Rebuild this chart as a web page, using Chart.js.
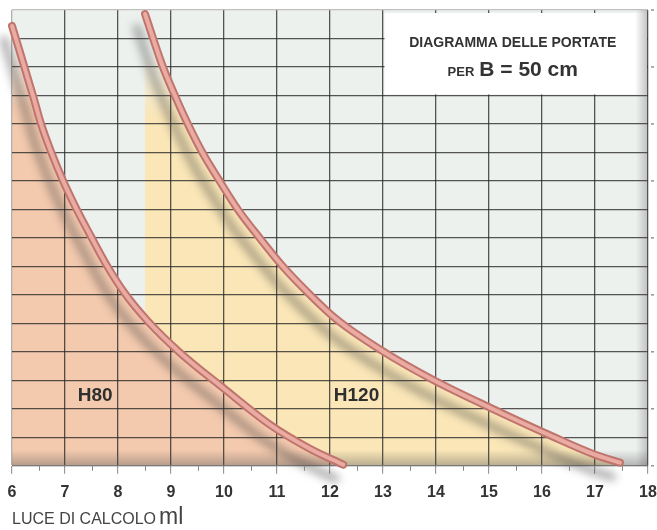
<!DOCTYPE html>
<html><head><meta charset="utf-8">
<script src="https://cdn.jsdelivr.net/npm/chart.js@4.4.1/dist/chart.umd.min.js"></script>
<style>html,body{margin:0;padding:0;background:#fff;}#wrap{width:657px;height:530px;}</style>
</head><body><div id="wrap"><canvas id="c" width="657" height="530"></canvas></div>
<script>
// ---- data ----
const xTicks = [6, 7, 8, 9, 10, 11, 12, 13, 14, 15, 16, 17, 18];
const rightTicks = [0, 2, 4, 6, 8, 10, 12, 14, 16];
const h80X = [6.0, 6.40, 6.55, 6.74, 6.96, 7.21, 7.49, 7.79, 8.13, 8.57, 9.17, 9.98, 10.87, 11.62, 12.25];
const h80Y = [15.44, 12.97, 11.99, 11.01, 10.02, 9.04, 8.05, 7.03, 6.05, 5.06, 3.97, 2.74, 1.44, 0.60, 0.04];
const h120X = [8.51, 8.66, 8.85, 9.08, 9.32, 9.60, 9.92, 10.26, 10.68, 11.11, 11.62, 12.13, 12.98, 13.94, 15.02, 16.21, 17.0, 17.47];
const h120Y = [15.86, 15.01, 13.99, 12.97, 11.99, 10.97, 9.99, 9.00, 7.98, 7.00, 6.01, 5.13, 4.04, 3.02, 2.04, 1.02, 0.39, 0.11];
const seriesLabels = ['H80', 'H120'];
const labelPos = [[7.57, 2.45], [12.5, 2.45]];
const boxTitle = 'DIAGRAMMA DELLE PORTATE';
const boxPer = 'PER';
const boxB = 'B = 50 cm';
const axisTitle = 'LUCE DI CALCOLO';
const axisUnit = 'ml';
const xMin = 6, xMax = 18, yMin = 0, yMax = 16;

const NARROW = "'Liberation Sans Narrow','Arial Narrow','Liberation Sans',Arial,sans-serif";
const SANS = "'Liberation Sans',Arial,sans-serif";

function pts(xs, ys) { return xs.map((x, i) => ({ x: x, y: ys[i] })); }

function fadeFill(rgb, vTop, vFull) {
  return function (ctx) {
    const ch = ctx.chart;
    if (!ch.chartArea) return 'rgba(' + rgb + ',1)';
    const ys = ch.scales.y;
    const g = ch.ctx.createLinearGradient(0, ys.getPixelForValue(vTop), 0, ys.getPixelForValue(vFull));
    g.addColorStop(0, 'rgba(' + rgb + ',0)');
    g.addColorStop(1, 'rgba(' + rgb + ',1)');
    return g;
  };
}

const lineCommon = {
  pointRadius: 0, pointHoverRadius: 0, cubicInterpolationMode: 'monotone',
  borderCapStyle: 'round', borderJoinStyle: 'round', clip: false
};

const datasets = [
  Object.assign({ label: seriesLabels[0] + ' core', data: pts(h80X, h80Y), borderColor: '#eaaba3', borderWidth: 4, fill: false }, lineCommon),
  Object.assign({ label: seriesLabels[0], data: pts(h80X, h80Y), borderColor: '#bf756d', borderWidth: 8, fill: 'origin', backgroundColor: fadeFill('244,202,174', 14.6, 12.6), shadow: true }, lineCommon),
  Object.assign({ label: seriesLabels[1] + ' core', data: pts(h120X, h120Y), borderColor: '#eaaba3', borderWidth: 4, fill: false }, lineCommon),
  Object.assign({ label: seriesLabels[1], data: pts(h120X, h120Y), borderColor: '#bf756d', borderWidth: 8, fill: 'origin', backgroundColor: fadeFill('250,230,183', 14.6, 12.2), shadow: true }, lineCommon),
  { label: 'area', data: [{ x: xMin, y: yMax }, { x: xMax, y: yMax }], borderWidth: 0, pointRadius: 0, fill: 'origin', backgroundColor: '#edf1ee' }
];

const decor = {
  id: 'decor',
  beforeDatasetsDraw(chart) {
    const ctx = chart.ctx, ca = chart.chartArea, xs = chart.scales.x, ys = chart.scales.y;
    ctx.save();
    let g = ctx.createLinearGradient(0, ca.bottom - 16, 0, ca.bottom);
    g.addColorStop(0, 'rgba(80,80,80,0)');
    g.addColorStop(1, 'rgba(80,80,80,0.38)');
    ctx.fillStyle = g;
    ctx.fillRect(ca.left, ca.bottom - 16, ca.right - ca.left, 16);
    g = ctx.createLinearGradient(ca.right - 12, 0, ca.right, 0);
    g.addColorStop(0, 'rgba(80,80,80,0)');
    g.addColorStop(1, 'rgba(80,80,80,0.3)');
    ctx.fillStyle = g;
    ctx.fillRect(ca.right - 12, ca.top, 12, ca.bottom - ca.top);
    // title box
    const bx0 = xs.getPixelForValue(13) + 1.5, bx1 = xs.getPixelForValue(18) - 1;
    const by0 = ys.getPixelForValue(16) + 3, by1 = ys.getPixelForValue(13) - 1;
    ctx.fillStyle = '#ffffff';
    ctx.fillRect(bx0, by0, bx1 - bx0, by1 - by0);
    g = ctx.createLinearGradient(bx1 - 12, 0, bx1, 0);
    g.addColorStop(0, 'rgba(90,90,90,0)');
    g.addColorStop(1, 'rgba(90,90,90,0.35)');
    ctx.fillStyle = g;
    ctx.fillRect(bx1 - 12, by0, 12, by1 - by0);
    const cx = (bx0 + bx1) / 2 - 3;
    ctx.fillStyle = '#333';
    ctx.textAlign = 'center';
    ctx.textBaseline = 'alphabetic';
    ctx.font = 'bold 14px ' + NARROW;
    ctx.fillText(boxTitle, cx, by0 + 34);
    ctx.font = 'bold 13px ' + SANS;
    const wPer = ctx.measureText(boxPer).width;
    ctx.font = 'bold 21px ' + SANS;
    const wB = ctx.measureText(boxB).width;
    const tot = wPer + 5 + wB;
    const sx = cx - tot / 2;
    ctx.textAlign = 'left';
    ctx.font = 'bold 13px ' + SANS;
    ctx.fillText(boxPer, sx, by0 + 63);
    ctx.font = 'bold 21px ' + SANS;
    ctx.fillText(boxB, sx + wPer + 5, by0 + 63);
    ctx.restore();
  },
  beforeDatasetDraw(chart, args) {
    const ds = chart.data.datasets[args.index];
    if (ds.shadow) {
      const ctx = chart.ctx;
      ctx.save();
      ctx.shadowColor = 'rgba(60,60,60,0.42)';
      ctx.shadowBlur = 8;
      ctx.shadowOffsetX = -8;
      ctx.shadowOffsetY = 14;
    }
  },
  afterDatasetDraw(chart, args) {
    const ds = chart.data.datasets[args.index];
    if (ds.shadow) chart.ctx.restore();
  },
  afterDatasetsDraw(chart) {
    const ctx = chart.ctx, ca = chart.chartArea, xs = chart.scales.x, ys = chart.scales.y;
    ctx.save();
    ctx.fillStyle = '#2f2f2f';
    ctx.textAlign = 'center';
    ctx.textBaseline = 'middle';
    ctx.font = 'bold 19px ' + NARROW;
    seriesLabels.forEach((t, i) => {
      ctx.fillText(t, xs.getPixelForValue(labelPos[i][0]), ys.getPixelForValue(labelPos[i][1]));
    });
    // minor ticks on x axis
    ctx.strokeStyle = '#888';
    ctx.lineWidth = 1;
    for (let v = xMin + 0.5; v < xMax; v += 1) {
      const px = Math.round(xs.getPixelForValue(v)) + 0.5;
      ctx.beginPath();
      ctx.moveTo(px, ca.bottom);
      ctx.lineTo(px, ca.bottom + 5);
      ctx.stroke();
    }
    // small ticks on right side
    ctx.strokeStyle = '#777';
    ctx.lineWidth = 1.2;
    rightTicks.forEach(v => {
      const py = ys.getPixelForValue(v);
      ctx.beginPath();
      ctx.moveTo(ca.right + 3, py);
      ctx.lineTo(ca.right + 6, py);
      ctx.stroke();
    });
    // axis title
    ctx.textAlign = 'left';
    ctx.textBaseline = 'alphabetic';
    ctx.fillStyle = '#444';
    ctx.font = '16px ' + NARROW;
    ctx.fillText(axisTitle, ca.left, 524);
    const w = ctx.measureText(axisTitle).width;
    ctx.font = '23px ' + NARROW;
    ctx.fillText(axisUnit, ca.left + w + 3, 524);
    ctx.restore();
  }
};

new Chart(document.getElementById('c'), {
  type: 'line',
  data: { datasets: datasets },
  options: {
    responsive: false,
    animation: false,
    events: [],
    layout: { padding: { left: 12, top: 10, right: 9, bottom: 19 } },
    plugins: { legend: { display: false }, tooltip: { enabled: false }, filler: { drawTime: 'beforeDraw' } },
    scales: {
      x: {
        type: 'linear', min: xMin, max: xMax, position: 'bottom',
        afterBuildTicks: (s) => { s.ticks = xTicks.map(v => ({ value: v })); },
        afterFit: (s) => { s.paddingLeft = 0; s.paddingRight = 0; },
        ticks: { color: '#333', font: { family: NARROW, size: 16, weight: 'bold' }, padding: 9, maxRotation: 0, autoSkip: false },
        grid: {
          color: (c) => c.tick && c.tick.value === xMin ? '#b0b0b0' : 'rgba(40,40,40,0.78)',
          lineWidth: 1.3, tickLength: 8, tickColor: '#888', tickWidth: 1
        },
        border: { display: true, color: '#8a8a8a', width: 1 }
      },
      y: {
        type: 'linear', min: yMin, max: yMax, position: 'left',
        ticks: { display: false, stepSize: 1 },
        grid: {
          drawTicks: false,
          color: (c) => c.tick && c.tick.value === yMax ? '#c0c0c0' : 'rgba(40,40,40,0.78)',
          lineWidth: 1.3
        },
        border: { display: false }
      }
    }
  },
  plugins: [decor]
});
</script>
</body></html>
